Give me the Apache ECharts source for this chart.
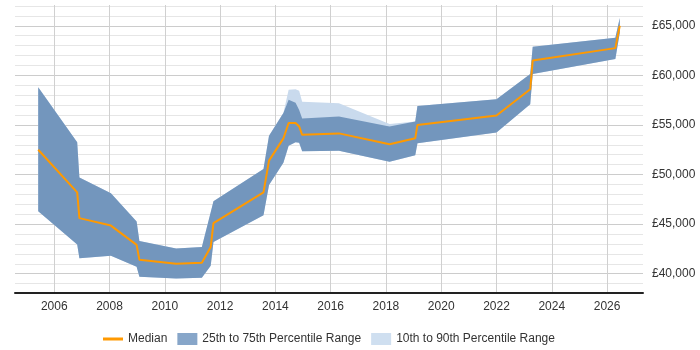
<!DOCTYPE html>
<html>
<head>
<meta charset="utf-8">
<script src="https://cdn.jsdelivr.net/npm/echarts@6/dist/echarts.min.js"></script>
<style>
  html, body { margin: 0; padding: 0; background: #fff; }
  #chart { width: 700px; height: 350px; }
</style>
</head>
<body>
<div id="chart"></div>
<script>
// decimal years of each sample
const years = [2005.42, 2006.83, 2006.91, 2008.05, 2008.98, 2009.08, 2010.41, 2011.34, 2011.66, 2011.76,
  2013.57, 2013.77, 2014.29, 2014.48, 2014.73, 2014.86, 2014.97, 2016.30, 2018.13, 2019.06,
  2019.14, 2022.0, 2023.22, 2023.31, 2026.30, 2026.46]

const median = [52500, 48200, 45600, 44850, 42900, 41400, 41000, 41100, 42700, 45100,
  48200, 51400, 53650, 55200, 55200, 54850, 54000, 54150, 53050, 53650,
  55000, 55950, 58600, 61500, 62750, 65000]

const p25 = [46300, 42950, 41550, 41800, 40700, 39700, 39500, 39600, 40800, 43200,
  45900, 48950, 51200, 52900, 53250, 53200, 52350, 52400, 51300, 51950,
  53150, 54250, 57100, 60150, 61650, 64300]

const p75 = [58800, 53250, 49700, 48100, 45250, 43300, 42550, 42700, 46200, 47300,
  50550, 53900, 56200, 57550, 57250, 56500, 55650, 55850, 54850, 55350,
  56900, 57600, 60150, 62900, 63800, 65800]

const p10 = [46300, 42950, 41550, 41800, 40700, 39700, 39500, 39600, 40800, 43200,
  45900, 48950, 51200, 52900, 53250, 53200, 52350, 52400, 51300, 51950,
  53150, 54250, 57100, 60150, 61650, 64300]

const p90 = [58800, 53250, 49700, 48100, 45250, 43300, 42550, 42700, 46200, 47300,
  50550, 53900, 56200, 58550, 58600, 58450, 57350, 57200, 55100, 55350,
  56900, 57600, 60150, 62900, 63800, 65800]

const xTicks = [2006, 2008, 2010, 2012, 2014, 2016, 2018, 2020, 2022, 2024, 2026]
const yLabels = [40000, 45000, 50000, 55000, 60000, 65000]
const yGrid = []
for (let v = 39000; v <= 67000; v += 1000) yGrid.push(v)

const font = "'Liberation Sans', Arial, sans-serif"
const darkBand = '#7396bd'
const lightBand = '#c9daed'
const orange = '#ff9900'

// one filled polygon between the lower and upper percentile lines
const band = (name, lo, hi, color, z) => ({
  name,
  type: 'custom',
  z,
  silent: true,
  data: years.map((y, i) => [y, lo[i], hi[i]]),
  encode: { x: 0, y: [1, 2] },
  renderItem: (params, api) => {
    if (params.dataIndex !== 0) return null
    const top = years.map((y, i) => api.coord([y, hi[i]]))
    const bottom = years.map((y, i) => api.coord([y, lo[i]])).reverse()
    return {
      type: 'polygon',
      shape: { points: top.concat(bottom) },
      style: { fill: color }
    }
  }
})

const chart = echarts.init(document.getElementById('chart'), null, { renderer: 'canvas' })

chart.setOption({
  animation: false,
  textStyle: { fontFamily: font },
  grid: { left: 15, right: 57, top: 5, bottom: 57.5 },
  legend: {
    left: 98,
    top: 328,
    itemWidth: 20,
    itemHeight: 12,
    itemGap: 10,
    textStyle: { fontFamily: font, fontSize: 12, color: '#333' },
    data: [
      { name: 'Median', icon: 'path://M0,0L0,0M0,12L0,12M0,4.5L20,4.5L20,7.5L0,7.5Z', itemStyle: { color: orange } },
      { name: '25th to 75th Percentile Range', icon: 'rect', itemStyle: { color: '#87a6c9' } },
      { name: '10th to 90th Percentile Range', icon: 'rect', itemStyle: { color: '#cfdff0' } }
    ]
  },
  xAxis: {
    type: 'value',
    min: 2004.58,
    max: 2027.3,
    axisLine: { show: true, onZero: false, lineStyle: { color: '#222', width: 2 } },
    axisTick: { show: false, customValues: xTicks },
    axisLabel: {
      customValues: xTicks,
      formatter: (v) => String(v),
      color: '#333', fontSize: 12, fontFamily: font, margin: 8
    },
    splitLine: { show: true, lineStyle: { color: '#d0d0d0', width: 1 } }
  },
  yAxis: {
    type: 'value',
    position: 'right',
    min: 38100,
    max: 67100,
    axisLine: { show: false },
    axisTick: { show: false, customValues: yGrid },
    axisLabel: {
      customValues: yLabels,
      formatter: (v) => '£' + v.toLocaleString('en-GB'),
      color: '#333', fontSize: 12, fontFamily: font, margin: 9
    },
    splitLine: {
      show: true,
      lineStyle: { color: ['#e6e6e6', '#cccccc', '#e6e6e6', '#e6e6e6', '#e6e6e6'], width: 1 }
    }
  },
  series: [
    band('10th to 90th Percentile Range', p10, p90, lightBand, 1),
    band('25th to 75th Percentile Range', p25, p75, darkBand, 2),
    {
      name: 'Median', type: 'line', data: years.map((y, i) => [y, median[i]]),
      symbol: 'none', lineStyle: { color: orange, width: 2 }, itemStyle: { color: orange }, z: 3
    }
  ]
})
</script>
</body>
</html>
